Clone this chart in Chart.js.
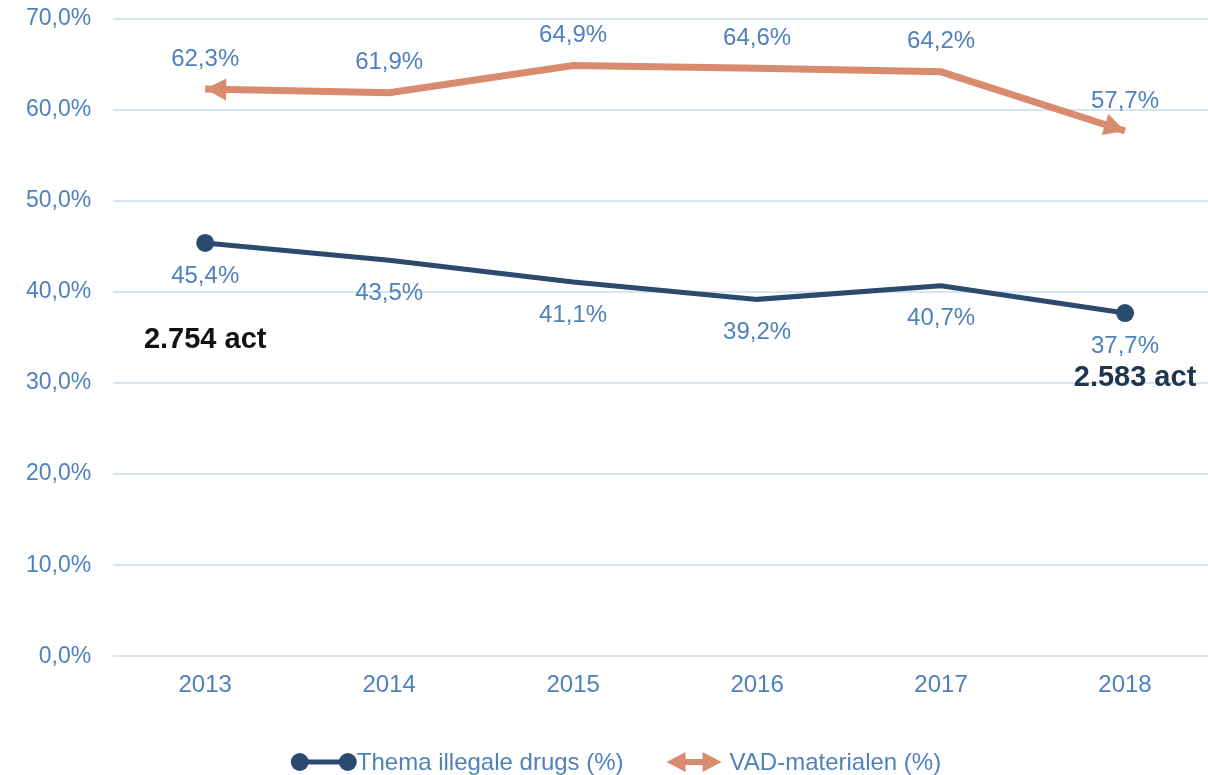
<!DOCTYPE html>
<html>
<head>
<meta charset="utf-8">
<script src="https://cdn.jsdelivr.net/npm/chart.js@4.4.1/dist/chart.umd.min.js"></script>
<style>
  body { margin: 0; background: #fff; overflow: hidden; }
  #wrap { width: 1230px; height: 775px; }
</style>
</head>
<body>
<div id="wrap"><canvas id="grafico"></canvas></div>
<script>
// datos
const anios = ['2013', '2014', '2015', '2016', '2017', '2018'];
const themaDrugs = [45.4, 43.5, 41.1, 39.2, 40.7, 37.7];
const vadMaterialen = [62.3, 61.9, 64.9, 64.6, 64.2, 57.7];
const nombresSeries = ['Thema illegale drugs (%)', 'VAD-materialen (%)'];
const yTicks = [0, 10, 20, 30, 40, 50, 60, 70];
const notas = ['2.754 act', '2.583 act'];

const azul = '#2c4a6e';
const naranja = '#d98b6d';
const textoAzul = '#4f81bd';
const fuente = "'Liberation Sans', Arial, sans-serif";

function fmt(v) {
	return v.toFixed(1).replace('.', ',') + '%';
}

function punta(ctx, tx, ty, fx, fy, largo, ancho) {
	const ang = Math.atan2(ty - fy, tx - fx);
	ctx.save();
	ctx.translate(tx, ty);
	ctx.rotate(ang);
	ctx.beginPath();
	ctx.moveTo(0, 0);
	ctx.lineTo(-largo, -ancho / 2);
	ctx.lineTo(-largo, ancho / 2);
	ctx.closePath();
	ctx.fill();
	ctx.restore();
}

// leyenda dibujada a mano
function dibujarLeyenda(chart) {
	const ctx = chart.ctx;
	const y = 762;
	ctx.save();
	ctx.font = '24px ' + fuente;
	ctx.textBaseline = 'middle';
	ctx.textAlign = 'left';
	const w1 = ctx.measureText(nombresSeries[0]).width;
	const w2 = ctx.measureText(nombresSeries[1]).width;
	const total = 66 + w1 + 43 + 55 + 8 + w2;
	let x = 616 - total / 2;

	ctx.strokeStyle = azul; ctx.fillStyle = azul; ctx.lineWidth = 5;
	ctx.beginPath(); ctx.moveTo(x + 9, y); ctx.lineTo(x + 57, y); ctx.stroke();
	ctx.beginPath(); ctx.arc(x + 9, y, 9, 0, Math.PI * 2); ctx.fill();
	ctx.beginPath(); ctx.arc(x + 57, y, 9, 0, Math.PI * 2); ctx.fill();
	x += 66;
	ctx.fillStyle = textoAzul;
	ctx.fillText(nombresSeries[0], x, y + 1);
	x += w1 + 43;

	ctx.strokeStyle = naranja; ctx.fillStyle = naranja; ctx.lineWidth = 6;
	ctx.beginPath(); ctx.moveTo(x + 14, y); ctx.lineTo(x + 41, y); ctx.stroke();
	punta(ctx, x, y, x + 10, y, 19, 20);
	punta(ctx, x + 55, y, x + 45, y, 19, 20);
	x += 55 + 8;
	ctx.fillStyle = textoAzul;
	ctx.fillText(nombresSeries[1], x, y + 1);
	ctx.restore();
}

const pluginExtras = {
	id: 'extras',
	afterDatasetsDraw(chart) {
		const ctx = chart.ctx;
		const xs = chart.scales.x, ys = chart.scales.y;

		// flechas en la serie naranja
		const m = chart.getDatasetMeta(1).data;
		const n = m.length - 1;
		ctx.fillStyle = naranja;
		punta(ctx, m[0].x, m[0].y, m[1].x, m[1].y, 21, 22);
		punta(ctx, m[n].x, m[n].y, m[n - 1].x, m[n - 1].y, 21, 22);

		// etiquetas de datos
		ctx.font = '24px ' + fuente;
		ctx.fillStyle = textoAzul;
		ctx.textAlign = 'center';
		ctx.textBaseline = 'middle';
		m.forEach((p, i) => ctx.fillText(fmt(vadMaterialen[i]), p.x, p.y - 30));
		chart.getDatasetMeta(0).data.forEach((p, i) => ctx.fillText(fmt(themaDrugs[i]), p.x, p.y + 33));

		// notas
		ctx.font = 'bold 29px ' + fuente;
		ctx.fillStyle = '#111';
		ctx.fillText(notas[0], xs.getPixelForValue(0), ys.getPixelForValue(34.7));
		ctx.fillStyle = '#1f3550';
		ctx.fillText(notas[1], xs.getPixelForValue(5) + 10, ys.getPixelForValue(30.6));

		dibujarLeyenda(chart);
	}
};

const ctx = document.getElementById('grafico').getContext('2d');
const grafico = new Chart(ctx, {
	type: 'line',
	data: {
		labels: anios,
		datasets: [
			{
				label: nombresSeries[0],
				data: themaDrugs,
				borderColor: azul,
				backgroundColor: azul,
				borderWidth: 5,
				pointRadius: [9, 0, 0, 0, 0, 9],
				pointHoverRadius: 9,
				pointBackgroundColor: azul,
				pointBorderWidth: 0,
				tension: 0
			},
			{
				label: nombresSeries[1],
				data: vadMaterialen,
				borderColor: naranja,
				backgroundColor: naranja,
				borderWidth: 7,
				pointRadius: 0,
				tension: 0
			}
		]
	},
	options: {
		responsive: true,
		maintainAspectRatio: false,
		animation: false,
		layout: { padding: { left: 4, right: 13, top: 19, bottom: 68 } },
		plugins: {
			tooltip: { enabled: false },
			legend: { display: false }
		},
		scales: {
			x: {
				offset: true,
				grid: { display: false },
				border: { display: false },
				ticks: { color: textoAzul, padding: 7, font: { family: fuente, size: 24 } }
			},
			y: {
				min: 0,
				max: 70,
				afterBuildTicks: (axis) => { axis.ticks = yTicks.map(v => ({ value: v })); },
				afterFit: (axis) => { axis.paddingTop = 0; axis.paddingBottom = 0; },
				grid: { color: '#d9e4f1', lineWidth: 2, drawTicks: false },
				border: { display: false },
				ticks: {
					color: textoAzul,
					padding: 22,
					font: { family: fuente, size: 23 },
					callback: (v) => fmt(v)
				}
			}
		}
	},
	plugins: [pluginExtras]
});
</script>
</body>
</html>
